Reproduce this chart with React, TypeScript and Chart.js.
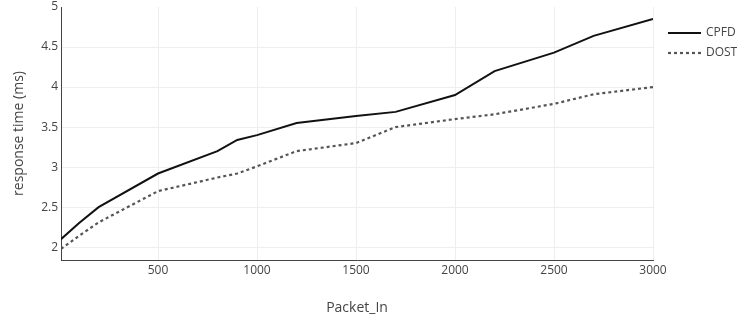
import React, { useEffect, useRef } from "react";
import { Chart, registerables } from "chart.js";

Chart.register(...registerables);

const packetIn = [10, 100, 200, 500, 800, 900, 1000, 1200, 1500, 1700, 2000, 2200, 2500, 2700, 3000];
const cpfd = [2.1, 2.3, 2.5, 2.92, 3.2, 3.34, 3.4, 3.55, 3.64, 3.69, 3.9, 4.2, 4.43, 4.64, 4.85];
const dost = [1.98, 2.14, 2.31, 2.7, 2.87, 2.92, 3.01, 3.2, 3.3, 3.5, 3.6, 3.66, 3.79, 3.91, 4.0];
const xTicks = [500, 1000, 1500, 2000, 2500, 3000];
const yTicks = [2, 2.5, 3, 3.5, 4, 4.5, 5];
const seriesNames = ["CPFD", "DOST"];

const FONT = "'Open Sans', 'Noto Sans', sans-serif";
const TXT = "#444";

const legendPlugin = {
  id: "rightLegend",
  afterDraw(chart: any) {
    const ctx = chart.ctx;
    ctx.save();
    chart.data.datasets.forEach((ds: any, i: number) => {
      const y = 33 + i * 20;
      ctx.beginPath();
      ctx.strokeStyle = ds.borderColor;
      ctx.lineWidth = ds.borderWidth;
      ctx.setLineDash(ds.borderDash || []);
      ctx.moveTo(668, y);
      ctx.lineTo(701, y);
      ctx.stroke();
      ctx.setLineDash([]);
      ctx.fillStyle = TXT;
      ctx.font = `12px ${FONT}`;
      ctx.textBaseline = "middle";
      ctx.textAlign = "left";
      ctx.fillText(ds.label, 706, y);
    });
    ctx.restore();
  },
};

export default function App() {
  const ref = useRef<HTMLCanvasElement | null>(null);
  useEffect(() => {
    if (!ref.current) return;
    const chart = new Chart(ref.current, {
      type: "line",
      data: {
        datasets: [
          {
            label: seriesNames[0],
            data: packetIn.map((x, i) => ({ x, y: cpfd[i] })),
            borderColor: "#111",
            borderWidth: 2,
            pointRadius: 0,
            tension: 0,
            fill: false,
          },
          {
            label: seriesNames[1],
            data: packetIn.map((x, i) => ({ x, y: dost[i] })),
            borderColor: "#555",
            borderWidth: 2.2,
            borderDash: [3, 3],
            pointRadius: 0,
            tension: 0,
            fill: false,
          },
        ],
      },
      options: {
        animation: false,
        responsive: false,
        layout: { padding: { left: 0, top: 7, right: 85, bottom: 0 } },
        plugins: { legend: { display: false }, tooltip: { enabled: false } },
        scales: {
          x: {
            type: "linear",
            min: 10,
            max: 3000,
            afterFit(s: any) {
              s.height = 63;
              s.paddingLeft = 0;
              s.paddingRight = 0;
            },
            afterBuildTicks(s: any) {
              s.ticks = xTicks.map((v) => ({ value: v }));
            },
            grid: { color: "#eee", drawTicks: false, lineWidth: 1 },
            border: { display: true, color: "#444", width: 1 },
            ticks: {
              padding: 3,
              color: TXT,
              font: { family: FONT, size: 12 },
              maxRotation: 0,
              callback: (v: any) => String(v),
            },
            title: {
              display: true,
              text: "Packet_In",
              color: TXT,
              font: { family: FONT, size: 14 },
              padding: { top: 0, bottom: 7 },
            },
          },
          y: {
            type: "linear",
            min: 1.84,
            max: 5,
            afterFit(s: any) {
              s.width = 61;
              s.paddingTop = 0;
              s.paddingBottom = 0;
            },
            afterBuildTicks(s: any) {
              s.ticks = yTicks.map((v) => ({ value: v }));
            },
            grid: {
              color: (c: any) => (c.tick && c.tick.value === 5 ? "rgba(0,0,0,0)" : "#eee"),
              drawTicks: false,
              lineWidth: 1,
            },
            border: { display: true, color: "#444", width: 1 },
            ticks: {
              padding: 3,
              color: TXT,
              font: { family: FONT, size: 12 },
              callback: (v: any) => String(v),
            },
            title: {
              display: true,
              text: "response time (ms)",
              color: TXT,
              font: { family: FONT, size: 14 },
              padding: { top: 11, bottom: 0 },
            },
          },
        },
      },
      plugins: [legendPlugin],
    } as any);
    return () => chart.destroy();
  }, []);
  return (
    <div style={{ position: "absolute", left: 0, top: 0, width: 738, height: 323, background: "#fff" }}>
      <canvas ref={ref} width={738} height={323} style={{ width: 738, height: 323, display: "block" }} />
    </div>
  );
}
